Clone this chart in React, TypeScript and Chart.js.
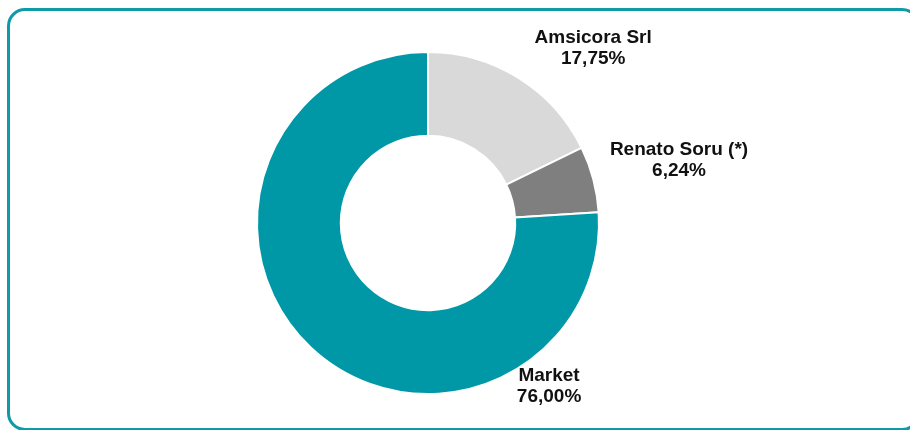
import React, { useEffect, useRef } from "react";
import { Chart, registerables } from "chart.js";

Chart.register(...registerables);

const categories = ["Amsicora Srl", "Renato Soru (*)", "Market"];
const shares = [17.75, 6.24, 76.0];
const sliceColors = ["#D9D9D9", "#7F7F7F", "#0097A7"];
// label anchor offsets relative to the donut centre, in units of the outer radius
const labelOffsetX = [0.966, 1.468, 0.708];
const labelOffsetY = [-1.02, -0.368, 0.957];

const fmt = (v: number) => v.toFixed(2).replace(".", ",") + "%";

const labelPlugin = {
  id: "sliceLabels",
  afterDraw(chart: any) {
    const meta = chart.getDatasetMeta(0);
    const ctx = chart.ctx;
    ctx.save();
    ctx.font = "bold 19px 'Liberation Sans', Arial, sans-serif";
    ctx.fillStyle = "#111111";
    ctx.textAlign = "center";
    ctx.textBaseline = "middle";
    meta.data.forEach((arc: any, i: number) => {
      const { x, y, outerRadius } = arc.getProps(["x", "y", "outerRadius"], true);
      const cx = x + labelOffsetX[i] * outerRadius;
      const cy = y + labelOffsetY[i] * outerRadius;
      ctx.fillText(categories[i], cx, cy - 10.5);
      ctx.fillText(fmt(shares[i]), cx, cy + 10.5);
    });
    ctx.restore();
  },
};

export default function App() {
  const ref = useRef<HTMLCanvasElement | null>(null);
  useEffect(() => {
    if (!ref.current) return;
    const chart = new Chart(ref.current, {
      type: "doughnut",
      data: {
        labels: categories,
        datasets: [
          {
            data: shares,
            backgroundColor: sliceColors,
            borderColor: "#FFFFFF",
            borderWidth: 2,
            hoverOffset: 0,
          },
        ],
      },
      options: {
        animation: false,
        responsive: true,
        maintainAspectRatio: false,
        cutout: "51%",
        layout: { padding: { top: 51, bottom: 35, left: 256, right: 310 } },
        plugins: {
          legend: { display: false },
          tooltip: { enabled: false },
        },
      },
      plugins: [labelPlugin],
    });
    return () => chart.destroy();
  }, []);

  return (
    <div
      style={{
        position: "fixed",
        left: 0,
        top: 0,
        width: 910,
        height: 430,
        overflow: "hidden",
        background: "#FFFFFF",
      }}
    >
      <div
        style={{
          position: "absolute",
          left: 7,
          top: 8,
          width: 913,
          height: 423,
          boxSizing: "border-box",
          border: "3px solid #0E9AA7",
          borderRadius: 18,
        }}
      />
      <div style={{ position: "absolute", left: 0, top: 0, width: 910, height: 430 }}>
        <canvas ref={ref} />
      </div>
    </div>
  );
}
